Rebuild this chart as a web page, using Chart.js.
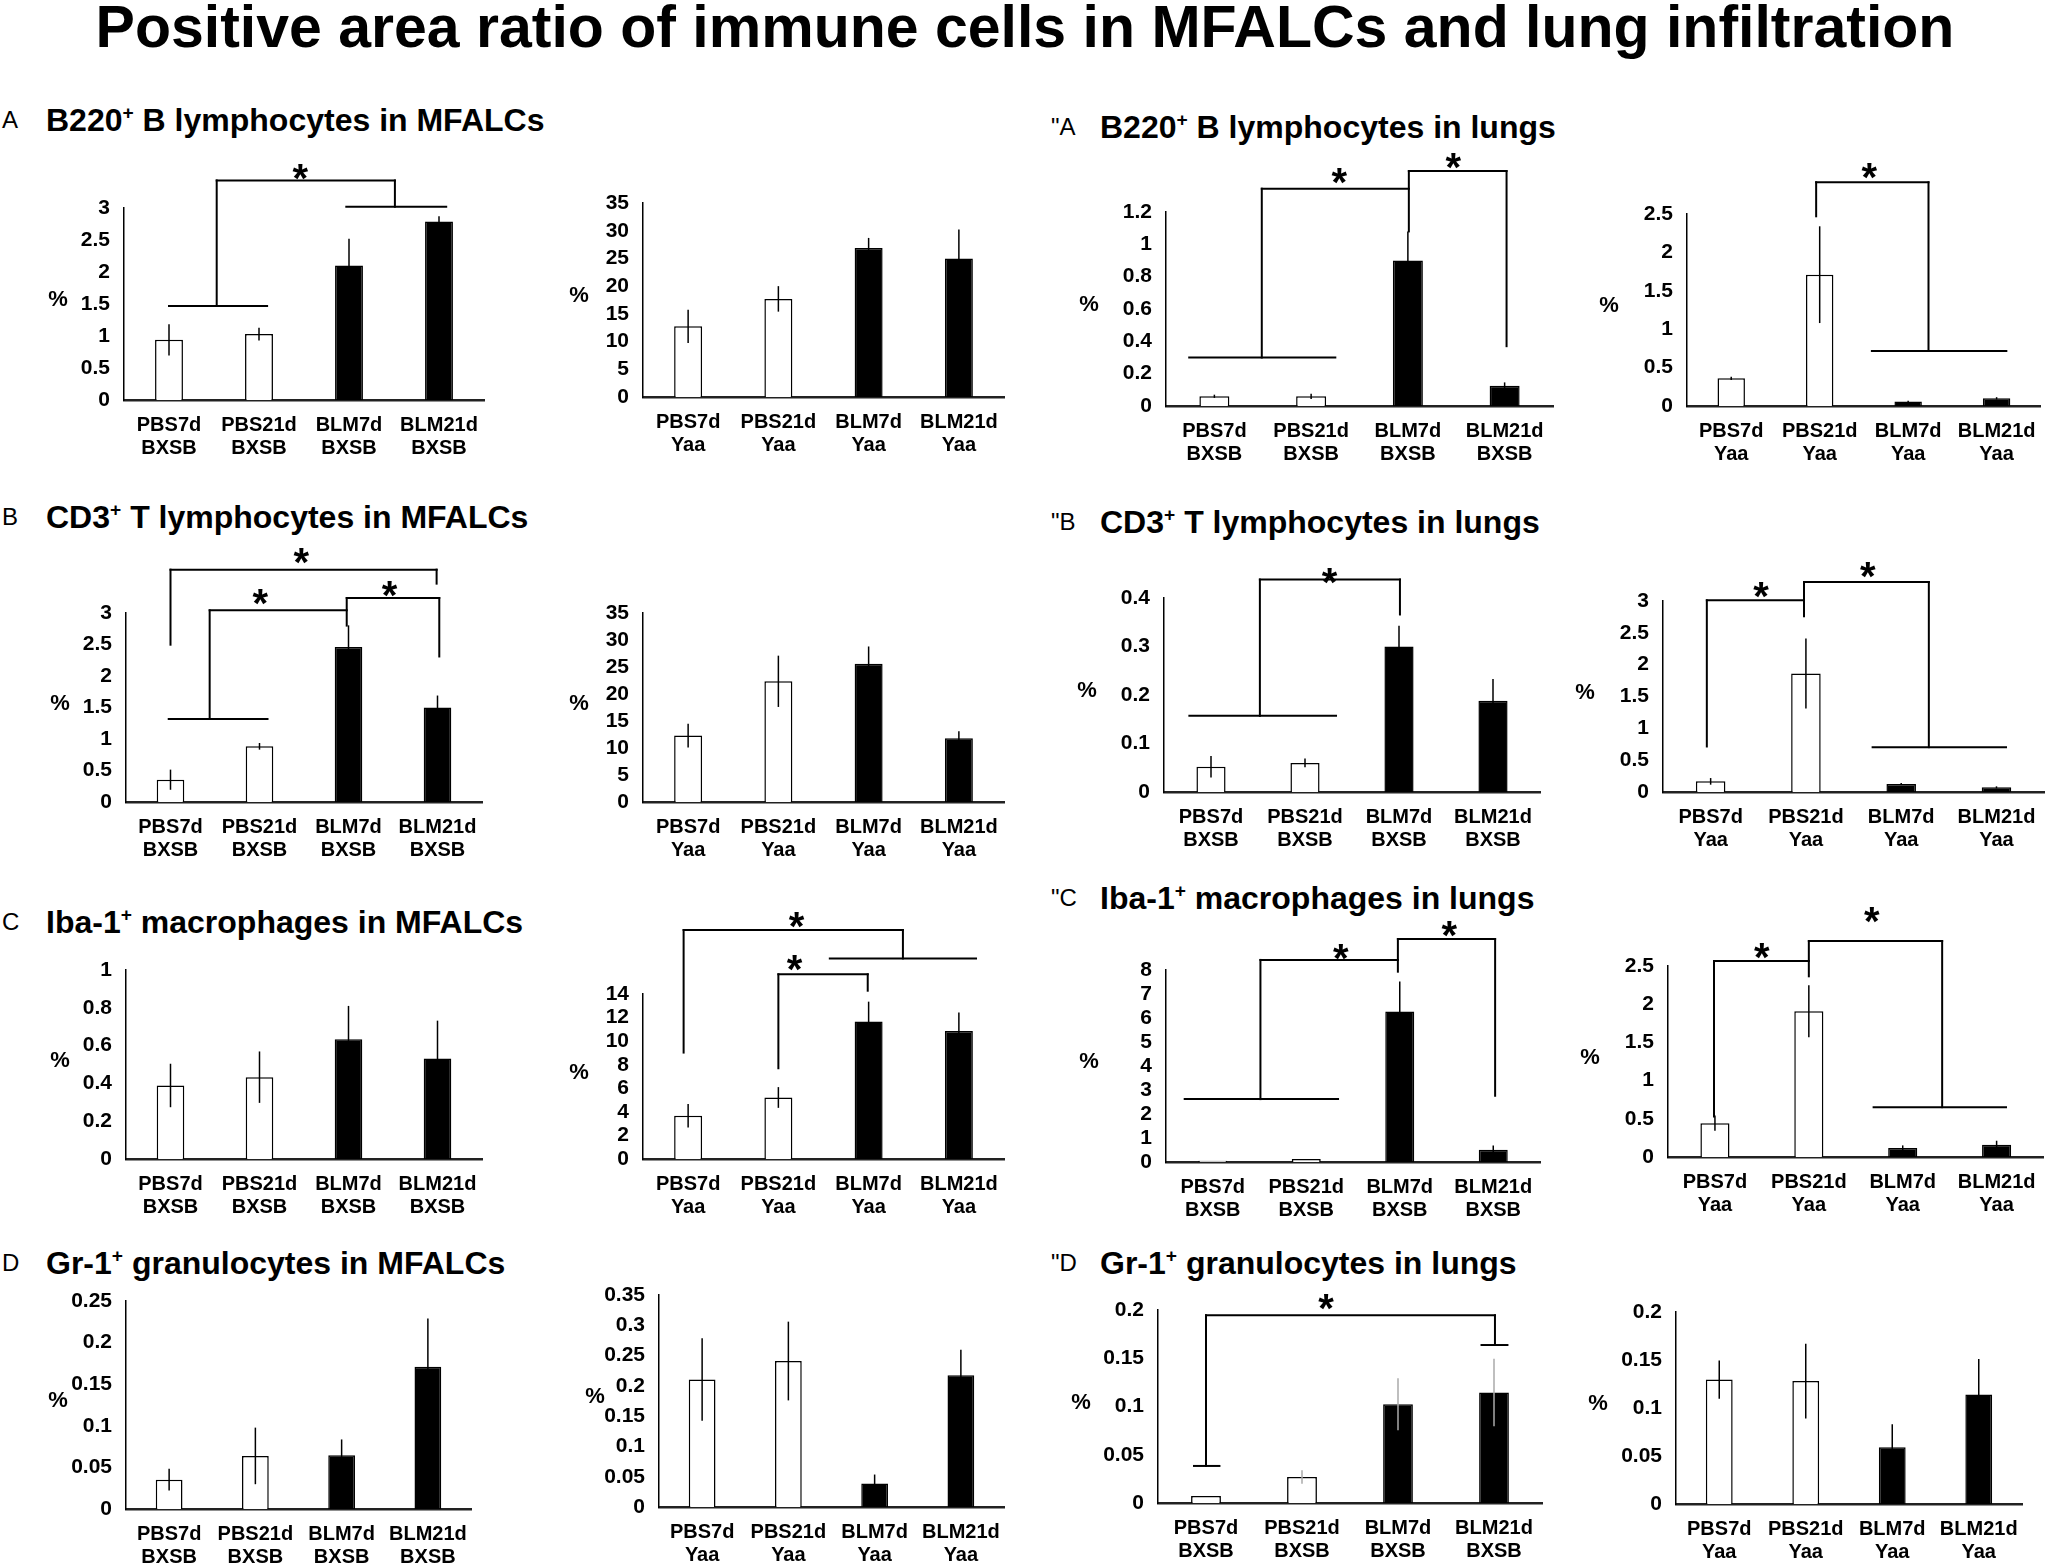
<!DOCTYPE html>
<html>
<head>
<meta charset="utf-8">
<script src="https://cdn.jsdelivr.net/npm/chart.js@4.4.0/dist/chart.umd.min.js"></script>
<style>
  body { margin: 0; background: #fff; }
  #page { position: relative; width: 2050px; height: 1568px; overflow: hidden; background: #fff;
          font-family: "Liberation Sans", Arial, sans-serif; color: #000; }
  .main-title { position: absolute; left: 0; top: -2px; width: 2050px; text-align: center;
                font-weight: bold; font-size: 59px; line-height: 59px; white-space: nowrap; }
  .ptitle { position: absolute; font-weight: bold; font-size: 32px; line-height: 32px; white-space: nowrap; }
  .ptitle sup { font-size: 60%; vertical-align: baseline; position: relative; top: -0.6em; }
  .letter { position: absolute; font-size: 24px; line-height: 24px; }
  .box { position: absolute; }
</style>
</head>
<body>
<div id="page">
  <div class="main-title">Positive area ratio of immune cells in MFALCs and lung infiltration</div>

  <div class="letter" style="left:2px;top:108px">A</div>
  <div class="ptitle" style="left:46px;top:104px">B220<sup>+</sup> B lymphocytes in MFALCs</div>
  <div class="letter" style="left:1051px;top:115px">"A</div>
  <div class="ptitle" style="left:1100px;top:111px">B220<sup>+</sup> B lymphocytes in lungs</div>

  <div class="letter" style="left:2px;top:505px">B</div>
  <div class="ptitle" style="left:46px;top:501px">CD3<sup>+</sup> T lymphocytes in MFALCs</div>
  <div class="letter" style="left:1051px;top:510px">"B</div>
  <div class="ptitle" style="left:1100px;top:506px">CD3<sup>+</sup> T lymphocytes in lungs</div>

  <div class="letter" style="left:2px;top:910px">C</div>
  <div class="ptitle" style="left:46px;top:906px">Iba-1<sup>+</sup> macrophages in MFALCs</div>
  <div class="letter" style="left:1051px;top:886px">"C</div>
  <div class="ptitle" style="left:1100px;top:882px">Iba-1<sup>+</sup> macrophages in lungs</div>

  <div class="letter" style="left:2px;top:1251px">D</div>
  <div class="ptitle" style="left:46px;top:1247px">Gr-1<sup>+</sup> granulocytes in MFALCs</div>
  <div class="letter" style="left:1051px;top:1251px">"D</div>
  <div class="ptitle" style="left:1100px;top:1247px">Gr-1<sup>+</sup> granulocytes in lungs</div>
</div>
<script>
// categories
const groupsBXSB = [['PBS7d', 'BXSB'], ['PBS21d', 'BXSB'], ['BLM7d', 'BXSB'], ['BLM21d', 'BXSB']];
const groupsYaa = [['PBS7d', 'Yaa'], ['PBS21d', 'Yaa'], ['BLM7d', 'Yaa'], ['BLM21d', 'Yaa']];
const barFills = ['#ffffff', '#ffffff', '#000000', '#000000'];

// A - B220+ B lymphocytes (mean and error)
const b220MfalcBxsb = [0.94, 1.03, 2.10, 2.79];
const b220MfalcBxsbErr = [0.245, 0.10, 0.42, 0.08];
const b220MfalcYaa = [12.75, 17.7, 26.9, 25.0];
const b220MfalcYaaErr = [3.0, 2.3, 1.8, 5.2];
const b220LungBxsb = [0.06, 0.06, 0.90, 0.126];
const b220LungBxsbErr = [0.01, 0.016, 0.18, 0.02];
const b220LungYaa = [0.36, 1.71, 0.057, 0.10];
const b220LungYaaErr = [0.02, 0.63, 0.01, 0.015];

// B - CD3+ T lymphocytes
const cd3MfalcBxsb = [0.354, 0.884, 2.46, 1.50];
const cd3MfalcBxsbErr = [0.16, 0.053, 0.344, 0.19];
const cd3MfalcYaa = [12.3, 22.35, 25.6, 11.8];
const cd3MfalcYaaErr = [2.2, 4.75, 3.2, 1.3];
const cd3LungBxsb = [0.052, 0.06, 0.30, 0.188];
const cd3LungBxsbErr = [0.022, 0.009, 0.043, 0.045];
const cd3LungYaa = [0.167, 1.86, 0.125, 0.073];
const cd3LungYaaErr = [0.052, 0.55, 0.015, 0.016];

// C - Iba-1+ macrophages
const iba1MfalcBxsb = [0.389, 0.433, 0.634, 0.532];
const iba1MfalcBxsbErr = [0.115, 0.136, 0.176, 0.2];
const iba1MfalcYaa = [3.67, 5.22, 11.66, 10.87];
const iba1MfalcYaaErr = [0.99, 0.88, 1.69, 1.55];
const iba1LungBxsb = [0.055, 0.125, 6.27, 0.513];
const iba1LungBxsbErr = [0, 0, 1.25, 0.17];
const iba1LungYaa = [0.443, 1.909, 0.117, 0.161];
const iba1LungYaaErr = [0.1, 0.34, 0.035, 0.052];

// D - Gr-1+ granulocytes
const gr1MfalcBxsb = [0.0353, 0.0638, 0.0646, 0.171];
const gr1MfalcBxsbErr = [0.013, 0.034, 0.019, 0.058];
const gr1MfalcYaa = [0.2105, 0.241, 0.0386, 0.2177];
const gr1MfalcYaaErr = [0.068, 0.065, 0.015, 0.042];
const gr1LungBxsb = [0.0073, 0.027, 0.1024, 0.1145];
const gr1LungBxsbErr = [0, 0.007, 0.027, 0.035];
const gr1LungYaa = [0.1296, 0.128, 0.059, 0.114];
const gr1LungYaaErr = [0.02, 0.039, 0.024, 0.037];

// significance brackets, in (category index, value) units
const sigB220MfalcBxsb = {
  lines: [[0, 1.47, 1.09, 1.47], [0.53, 1.47, 0.53, 3.43], [0.53, 3.43, 2.51, 3.43],
          [2.51, 3.43, 2.51, 3.02], [1.97, 3.02, 3.08, 3.02]],
  stars: [[1.46, 3.6]]
};
const sigB220LungBxsb = {
  lines: [[-0.26, 0.30, 1.25, 0.30], [0.49, 0.30, 0.49, 1.344], [0.49, 1.344, 2.01, 1.344],
          [2.01, 1.08, 2.01, 1.453], [2.01, 1.453, 3.02, 1.453], [3.02, 1.453, 3.02, 0.37]],
  stars: [[1.29, 1.437], [2.47, 1.53]]
};
const sigB220LungYaa = {
  lines: [[0.96, 2.47, 0.96, 2.913], [0.96, 2.913, 2.23, 2.913], [2.23, 2.913, 2.23, 0.717],
          [1.59, 0.717, 3.11, 0.717]],
  stars: [[1.56, 3.087]]
};
const sigCd3MfalcBxsb = {
  lines: [[0, 2.497, 0, 3.688], [0, 3.688, 2.99, 3.688], [2.99, 3.688, 2.99, 3.466],
          [-0.02, 1.317, 1.09, 1.317], [0.44, 1.317, 0.44, 3.042], [0.44, 3.042, 1.98, 3.042],
          [1.98, 2.80, 1.98, 3.238], [1.98, 3.238, 3.02, 3.238], [3.02, 3.238, 3.02, 2.31]],
  stars: [[1.47, 3.94], [1.01, 3.29], [2.46, 3.42]]
};
const sigCd3LungBxsb = {
  lines: [[-0.23, 0.157, 1.33, 0.157], [0.52, 0.157, 0.52, 0.438], [0.52, 0.438, 2.01, 0.438],
          [2.01, 0.438, 2.01, 0.366]],
  stars: [[1.26, 0.45]]
};
const sigCd3LungYaa = {
  lines: [[-0.04, 0.715, -0.04, 3.01], [-0.04, 3.01, 0.98, 3.01], [0.98, 2.76, 0.98, 3.297],
          [0.98, 3.297, 2.29, 3.297], [2.29, 3.297, 2.29, 0.704], [1.70, 0.704, 3.10, 0.704]],
  stars: [[0.53, 3.21], [1.65, 3.52]]
};
const sigIba1MfalcYaa = {
  lines: [[-0.05, 9.03, -0.05, 19.42], [-0.05, 19.42, 2.38, 19.42], [2.38, 19.42, 2.38, 17.02],
          [1.57, 17.02, 3.19, 17.02], [1.0, 7.7, 1.0, 15.67], [1.0, 15.67, 1.99, 15.67],
          [1.99, 15.67, 1.99, 14.28]],
  stars: [[1.20, 20.49], [1.18, 16.8]]
};
const sigIba1LungBxsb = {
  lines: [[-0.30, 2.62, 1.34, 2.62], [0.51, 2.62, 0.51, 8.42], [0.51, 8.42, 1.98, 8.42],
          [1.98, 7.93, 1.98, 9.29], [1.98, 9.29, 3.02, 9.29], [3.02, 9.29, 3.02, 2.76]],
  stars: [[1.37, 8.83], [2.53, 9.8]]
};
const sigIba1LungYaa = {
  lines: [[-0.01, 0.53, -0.01, 2.565], [-0.01, 2.565, 1.0, 2.565], [1.0, 2.365, 1.0, 2.826],
          [1.0, 2.826, 2.42, 2.826], [2.42, 2.826, 2.42, 0.652], [1.69, 0.652, 3.10, 0.652]],
  stars: [[0.5, 2.72], [1.67, 3.19]]
};
const sigGr1LungBxsb = {
  lines: [[-0.125, 0.0384, 0.14, 0.0384], [0, 0.0384, 0, 0.1945], [0, 0.1945, 3.01, 0.1945],
          [3.01, 0.1945, 3.01, 0.1637], [2.87, 0.1637, 3.14, 0.1637]],
  stars: [[1.25, 0.21]]
};
const noSig = { lines: [], stars: [] };

const FONT = '"Liberation Sans", Arial, sans-serif';
Chart.defaults.font.family = FONT;
Chart.defaults.color = '#000';

// plot area boxes [left, top, right, bottom] on the page
const panels = [
  { box: [124, 208, 484, 400], labels: groupsBXSB, values: b220MfalcBxsb, errors: b220MfalcBxsbErr, yMax: 3, yStep: 0.5, pctDx: 66, sig: sigB220MfalcBxsb },
  { box: [643, 203, 1004, 397], labels: groupsYaa, values: b220MfalcYaa, errors: b220MfalcYaaErr, yMax: 35, yStep: 5, pctDx: 64, sig: noSig },
  { box: [1166, 212, 1553, 406], labels: groupsBXSB, values: b220LungBxsb, errors: b220LungBxsbErr, yMax: 1.2, yStep: 0.2, pctDx: 77, sig: sigB220LungBxsb },
  { box: [1687, 214, 2046, 406], labels: groupsYaa, values: b220LungYaa, errors: b220LungYaaErr, yMax: 2.5, yStep: 0.5, pctDx: 78, sig: sigB220LungYaa },

  { box: [126, 613, 482, 802], labels: groupsBXSB, values: cd3MfalcBxsb, errors: cd3MfalcBxsbErr, yMax: 3, yStep: 0.5, pctDx: 66, sig: sigCd3MfalcBxsb },
  { box: [643, 613, 1004, 802], labels: groupsYaa, values: cd3MfalcYaa, errors: cd3MfalcYaaErr, yMax: 35, yStep: 5, pctDx: 64, sig: noSig },
  { box: [1164, 598, 1540, 792], labels: groupsBXSB, values: cd3LungBxsb, errors: cd3LungBxsbErr, yMax: 0.4, yStep: 0.1, pctDx: 77, sig: sigCd3LungBxsb },
  { box: [1663, 601, 2045, 792], labels: groupsYaa, values: cd3LungYaa, errors: cd3LungYaaErr, yMax: 3, yStep: 0.5, pctDx: 78, sig: sigCd3LungYaa },

  { box: [126, 970, 482, 1159], labels: groupsBXSB, values: iba1MfalcBxsb, errors: iba1MfalcBxsbErr, yMax: 1, yStep: 0.2, pctDx: 66, sig: noSig },
  { box: [643, 994, 1004, 1159], labels: groupsYaa, values: iba1MfalcYaa, errors: iba1MfalcYaaErr, yMax: 14, yStep: 2, pctDx: 64, sig: sigIba1MfalcYaa },
  { box: [1166, 970, 1540, 1162], labels: groupsBXSB, values: iba1LungBxsb, errors: iba1LungBxsbErr, yMax: 8, yStep: 1, pctDx: 77, sig: sigIba1LungBxsb },
  { box: [1668, 966, 2046, 1157], labels: groupsYaa, values: iba1LungYaa, errors: iba1LungYaaErr, yMax: 2.5, yStep: 0.5, pctDx: 78, sig: sigIba1LungYaa },

  { box: [126, 1301, 471, 1509], labels: groupsBXSB, values: gr1MfalcBxsb, errors: gr1MfalcBxsbErr, yMax: 0.25, yStep: 0.05, pctDx: 68, sig: noSig },
  { box: [659, 1295, 1004, 1507], labels: groupsYaa, values: gr1MfalcYaa, errors: gr1MfalcYaaErr, yMax: 0.35, yStep: 0.05, pctDx: 64, sig: noSig },
  { box: [1158, 1310, 1542, 1503], labels: groupsBXSB, values: gr1LungBxsb, errors: gr1LungBxsbErr, yMax: 0.2, yStep: 0.05, pctDx: 77, sig: sigGr1LungBxsb, errColors: ['#000', '#aaa', '#aaa', '#aaa'] },
  { box: [1676, 1312, 2022, 1504], labels: groupsYaa, values: gr1LungYaa, errors: gr1LungYaaErr, yMax: 0.2, yStep: 0.05, pctDx: 78, sig: noSig }
];

// error bars, brackets, stars and the "%" label
const makeMarks = (p) => ({
  id: 'marks',
  afterDraw(chart) {
    const ctx = chart.ctx;
    const xs = chart.scales.x, ys = chart.scales.y;
    const meta = chart.getDatasetMeta(0);
    const area = chart.chartArea;
    ctx.save();

    ctx.lineWidth = 1.5;
    p.errors.forEach((e, i) => {
      if (!e) return;
      const x = meta.data[i].x;
      ctx.strokeStyle = p.errColors ? p.errColors[i] : '#000';
      ctx.beginPath();
      ctx.moveTo(x, ys.getPixelForValue(p.values[i] - e));
      ctx.lineTo(x, ys.getPixelForValue(p.values[i] + e));
      ctx.stroke();
    });

    ctx.strokeStyle = '#000';
    ctx.lineWidth = 2;
    ctx.lineCap = 'square';
    p.sig.lines.forEach(([x1, y1, x2, y2]) => {
      ctx.beginPath();
      ctx.moveTo(xs.getPixelForValue(x1), ys.getPixelForValue(y1));
      ctx.lineTo(xs.getPixelForValue(x2), ys.getPixelForValue(y2));
      ctx.stroke();
    });

    ctx.fillStyle = '#000';
    ctx.font = 'bold 40px ' + FONT;
    ctx.textAlign = 'center';
    ctx.textBaseline = 'alphabetic';
    p.sig.stars.forEach(([sx, sy]) => {
      ctx.fillText('*', xs.getPixelForValue(sx), ys.getPixelForValue(sy) + 0.55 * 40);
    });

    ctx.font = 'bold 22px ' + FONT;
    ctx.textBaseline = 'middle';
    ctx.fillText('%', area.left - p.pctDx, (area.top + area.bottom) / 2 - 4);
    ctx.restore();
  }
});

const page = document.getElementById('page');
const padT = 120, yw = 100, xh = 80;

panels.forEach((p) => {
  const [L, T, R, B] = p.box;
  const padR = Math.min(12, 2050 - R);
  const div = document.createElement('div');
  div.className = 'box';
  div.style.left = (L - yw) + 'px';
  div.style.top = (T - padT) + 'px';
  div.style.width = (yw + R - L + padR) + 'px';
  div.style.height = (padT + B - T + xh) + 'px';
  const canvas = document.createElement('canvas');
  div.appendChild(canvas);
  page.appendChild(div);

  new Chart(canvas, {
    type: 'bar',
    data: {
      labels: p.labels,
      datasets: [{
        data: p.values,
        backgroundColor: barFills,
        borderColor: '#000',
        borderWidth: 1.5,
        barPercentage: 0.31,
        categoryPercentage: 1
      }]
    },
    options: {
      responsive: true,
      maintainAspectRatio: false,
      animation: false,
      layout: { padding: { top: padT, right: padR, left: 0, bottom: 0 } },
      plugins: { legend: { display: false }, tooltip: { enabled: false } },
      scales: {
        x: {
          offset: true,
          grid: { display: false, drawTicks: false },
          border: { display: true, color: '#222', width: 2.5 },
          ticks: { font: { size: 20, weight: 'bold', lineHeight: 1.15 }, padding: 14, maxRotation: 0, autoSkip: false },
          afterFit: (s) => { s.height = xh; }
        },
        y: {
          min: 0,
          max: p.yMax,
          grid: { display: false, drawTicks: false },
          border: { display: true, color: '#000', width: 1.5 },
          ticks: { stepSize: p.yStep, autoSkip: false, font: { size: 21, weight: 'bold' }, padding: 14,
                   callback: (v) => String(+v.toFixed(3)) },
          afterFit: (s) => { s.width = yw; }
        }
      }
    },
    plugins: [makeMarks(p)]
  });
});
</script>
</body>
</html>
